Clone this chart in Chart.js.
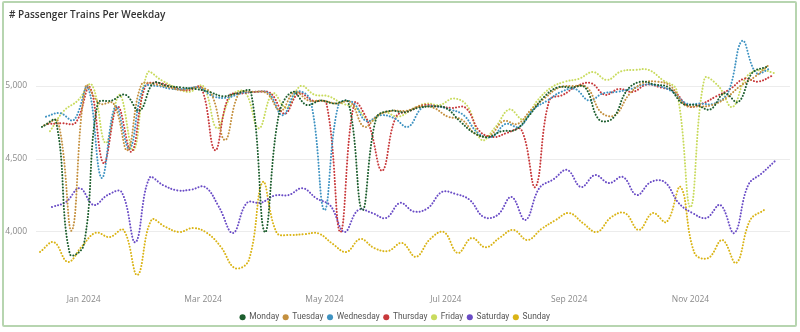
<!DOCTYPE html>
<html>
<head>
<meta charset="utf-8">
<script src="https://cdn.jsdelivr.net/npm/chart.js@4.4.1/dist/chart.umd.min.js"></script>
<style>
  html, body { margin: 0; padding: 0; background: #fff; }
  #wrap { position: relative; width: 800px; height: 332px; }
  #frame { position: absolute; left: 2px; top: 1px; width: 791px; height: 322px; border: 2px solid #b7d5b0; border-radius: 2px; pointer-events: none; }
  #title { position: absolute; left: 9px; top: 7px; font: 600 10px "Open Sans", sans-serif; color: #333; }
  canvas { position: absolute; left: 0; top: 0; }
</style>
</head>
<body>
<div id="wrap">
  <canvas id="chart1" width="800" height="332"></canvas>
  <div id="frame"></div>
  <div id="title"># Passenger Trains Per Weekday</div>
</div>
<script>
// weekly values, one point per weekday from its first date onwards
const weekdays = ['Monday', 'Tuesday', 'Wednesday', 'Thursday', 'Friday', 'Saturday', 'Sunday'];
const firstDates = ['2023-12-11', '2023-12-12', '2023-12-13', '2023-12-14', '2023-12-15', '2023-12-16', '2023-12-10'];
const colors = ['#1d5e2e', '#c4903f', '#3f93c2', '#c8393b', '#c9db5e', '#6a4cc6', '#dab416'];

const monday = [4720, 4760, 3850, 3910, 4880, 4900, 4940, 4830, 5020, 5000, 4990, 4980, 4960, 4930, 4950, 4960, 4000, 4800, 4960, 4870, 4900, 4880, 4890, 4150, 4780, 4830, 4820, 4850, 4860, 4850, 4760, 4680, 4650, 4690, 4700, 4800, 4920, 4990, 4990, 4990, 4770, 4780, 4970, 5030, 5010, 4990, 4880, 4870, 4840, 4950, 4890, 5090, 5130];
const tuesday = [4730, 4760, 4010, 5000, 4880, 4880, 4560, 5010, 5010, 4990, 4970, 4990, 4950, 4630, 4950, 4960, 4950, 4830, 4960, 4900, 4900, 4880, 4890, 4720, 4800, 4830, 4830, 4860, 4850, 4790, 4770, 4670, 4660, 4760, 4740, 4840, 4920, 4990, 5000, 4990, 4820, 4800, 4940, 5020, 5030, 5000, 4870, 4860, 4870, 4920, 5000, 5060, 5140];
const wednesday = [4790, 4815, 4767, 4993, 4370, 4860, 4570, 4990, 5000, 4980, 4980, 4990, 4930, 4920, 4950, 4960, 4950, 4800, 4960, 4900, 4150, 4870, 4890, 4760, 4800, 4780, 4720, 4850, 4860, 4840, 4800, 4680, 4650, 4740, 4720, 4840, 4900, 4960, 4980, 4900, 4950, 4960, 4980, 5010, 5000, 4960, 4880, 4880, 4880, 4960, 5310, 5090, 5120];
const thursday = [4740, 4745, 4750, 4993, 4470, 4860, 4550, 5000, 5020, 4990, 4970, 4990, 4560, 4930, 4950, 4960, 4950, 4810, 4950, 4900, 4880, 4000, 4880, 4750, 4420, 4790, 4830, 4870, 4860, 4850, 4850, 4690, 4650, 4680, 4700, 4308, 4900, 4940, 5000, 5020, 4940, 4980, 4960, 5010, 4990, 4960, 4860, 4880, 4930, 4980, 5050, 5030, 5070];
const friday = [4690, 4830, 4900, 5010, 4610, 4940, 4560, 5090, 5040, 4990, 4960, 5000, 4710, 4930, 4960, 4710, 4950, 4850, 5000, 4940, 4930, 4880, 4850, 4760, 4820, 4790, 4840, 4880, 4870, 4915, 4860, 4630, 4720, 4840, 4770, 4900, 4990, 5030, 5050, 5096, 5041, 5100, 5110, 5110, 5041, 4970, 4170, 5050, 5000, 4856, 5061, 5110, 5089];
const saturday = [4171, 4205, 4300, 4185, 4253, 4274, 3930, 4370, 4320, 4285, 4290, 4308, 4171, 3993, 4199, 4200, 4250, 4253, 4300, 4230, 4180, 4000, 4151, 4130, 4096, 4199, 4140, 4164, 4274, 4260, 4220, 4103, 4116, 4240, 4082, 4301, 4360, 4425, 4308, 4390, 4335, 4377, 4253, 4342, 4342, 4199, 4130, 4096, 4185, 3993, 4322, 4404, 4493];
const sunday = [3863, 3930, 3795, 3900, 3995, 3965, 4014, 3705, 4082, 4035, 4000, 4027, 3993, 3897, 3753, 3808, 4342, 3995, 3980, 3985, 3990, 3920, 3863, 3952, 3890, 3870, 3925, 3830, 3950, 4000, 3856, 3959, 3895, 3960, 4014, 3945, 4020, 4080, 4130, 4060, 4000, 4100, 4130, 4014, 4130, 4069, 4308, 3856, 3822, 3945, 3788, 4082, 4151];

const tickDates = ['2024-01-01', '2024-03-01', '2024-05-01', '2024-07-01', '2024-09-01', '2024-11-01'];
const tickLabels = ['Jan 2024', 'Mar 2024', 'May 2024', 'Jul 2024', 'Sep 2024', 'Nov 2024'];
const yTicks = [4000, 4500, 5000];

const series = [monday, tuesday, wednesday, thursday, friday, saturday, sunday];

// day number counted from 1 Jan 2024
const DAY = 86400000;
const origin = Date.UTC(2024, 0, 1);
function dayNum(s) {
    let p = s.split('-');
    return (Date.UTC(+p[0], +p[1] - 1, +p[2]) - origin) / DAY;
}
const tickDays = tickDates.map(dayNum);

let datasets = weekdays.map(function (name, k) {
    let start = dayNum(firstDates[k]);
    return {
        label: name,
        data: series[k].map(function (v, i) { return { x: start + 7 * i, y: v }; }),
        borderColor: colors[k],
        backgroundColor: colors[k],
        borderWidth: 2,
        borderDash: [0.1, 3],
        borderCapStyle: 'round',
        tension: 0.4,
        pointRadius: 0,
        pointHoverRadius: 0,
        fill: false
    };
});

// fixed legend height so the vertical layout stays put
const legendHeight = {
    id: 'legendHeight',
    beforeInit: function (chart) {
        let fit = chart.legend.fit;
        chart.legend.fit = function () {
            fit.call(this);
            this.height = 23;
        };
    }
};

let ctx1 = document.getElementById('chart1');
new Chart(ctx1, {
    type: 'line',
    data: { datasets: datasets },
    plugins: [legendHeight],
    options: {
        responsive: false,
        animation: false,
        layout: { padding: { left: 0, right: 10, top: 32, bottom: 0 } },
        scales: {
            x: {
                type: 'linear',
                min: -24,
                max: 355,
                grid: { display: false, drawTicks: false },
                border: { display: false },
                afterBuildTicks: function (scale) {
                    scale.ticks = tickDays.map(function (d) { return { value: d }; });
                },
                afterFit: function (scale) { scale.height = 23; },
                ticks: {
                    autoSkip: false,
                    maxRotation: 0,
                    padding: 8,
                    color: '#8a8a8a',
                    font: { family: 'Open Sans', size: 8.5 },
                    callback: function (v) { return tickLabels[tickDays.indexOf(v)]; }
                }
            },
            y: {
                min: 3630,
                max: 5370,
                grid: { color: '#ececec', drawTicks: false },
                border: { display: false },
                afterBuildTicks: function (scale) {
                    scale.ticks = yTicks.map(function (v) { return { value: v }; });
                },
                afterFit: function (scale) { scale.width = 36; },
                ticks: {
                    padding: 9,
                    color: '#8a8a8a',
                    font: { family: 'Open Sans', size: 8.5 },
                    callback: function (v) { return v.toLocaleString('en-US'); }
                }
            }
        },
        plugins: {
            legend: {
                position: 'bottom',
                labels: {
                    usePointStyle: true,
                    pointStyle: 'circle',
                    boxWidth: 5,
                    boxHeight: 4.3,
                    padding: 4,
                    color: '#555',
                    font: { family: 'Roboto', size: 8.4 },
                    generateLabels: function (chart) {
                        let items = Chart.defaults.plugins.legend.labels.generateLabels(chart);
                        items.forEach(function (it) { it.lineWidth = 0; it.lineDash = []; });
                        return items;
                    }
                }
            },
            tooltip: { enabled: false }
        }
    }
});
</script>
</body>
</html>
